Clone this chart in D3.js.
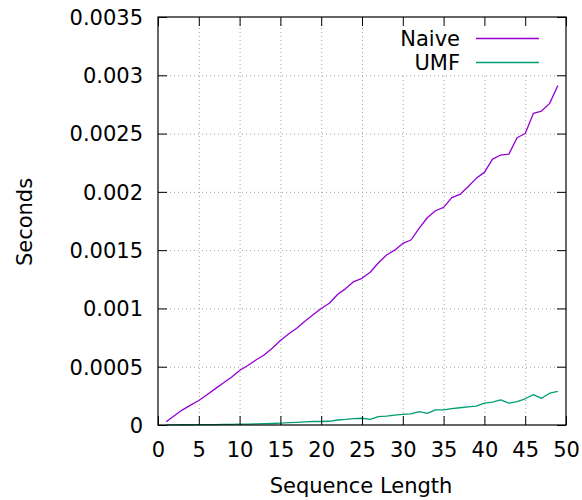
<!DOCTYPE html>
<html>
<head>
<meta charset="utf-8">
<script src="https://cdn.jsdelivr.net/npm/d3@7"></script>
<style>
  html, body { margin: 0; padding: 0; background: #fff; }
  svg { display: block; font-family: "DejaVu Sans", sans-serif; }
</style>
</head>
<body>
<svg id="chart" width="582" height="500"></svg>
<script>
// ---- data ----
const seqLength = d3.range(1, 50);
const naive = [
  0.000028, 0.00008, 0.00013, 0.00017, 0.00021, 0.00026, 0.00031, 0.00036, 0.00041, 0.000468,
  0.00051, 0.000557, 0.0006, 0.000658, 0.000725, 0.00078, 0.00083, 0.00089, 0.000945, 0.001,
  0.001044, 0.00112, 0.00117, 0.00123, 0.001258, 0.00131, 0.00139, 0.001458, 0.0015, 0.001558,
  0.001587, 0.001687, 0.001778, 0.001838, 0.001867, 0.00195, 0.001978, 0.002044, 0.002116, 0.002167,
  0.002281, 0.002316, 0.002324, 0.002464, 0.002501, 0.002673, 0.002693, 0.002759, 0.002913
];
const umf = [
  0.000001, 0.000001, 0.000002, 0.000002, 0.000003, 0.000003, 0.000004, 0.000005, 0.000006, 0.000007,
  0.000008, 0.00001, 0.000011, 0.000013, 0.000016, 0.00002, 0.000023, 0.000027, 0.00003, 0.00003,
  0.000032, 0.000043, 0.000048, 0.000055, 0.000058, 0.000048, 0.000071, 0.000077, 0.000085, 0.000092,
  0.000095, 0.000114, 0.0001, 0.000129, 0.000129, 0.00014, 0.000148, 0.000155, 0.000162, 0.000188,
  0.000196, 0.000216, 0.000188, 0.000201, 0.000225, 0.000261, 0.000229, 0.000273, 0.000289
];
const seriesNames = ["Naive", "UMF"];
const seriesColors = ["#9400d3", "#009e73"];
const xTicks = [0, 5, 10, 15, 20, 25, 30, 35, 40, 45, 50];
const yTicks = [0, 0.0005, 0.001, 0.0015, 0.002, 0.0025, 0.003, 0.0035];
const yTickLabels = ["0", "0.0005", "0.001", "0.0015", "0.002", "0.0025", "0.003", "0.0035"];
const xTitle = "Sequence Length";
const yTitle = "Seconds";

// ---- layout ----
const svg = d3.select("#chart");
const L = 158, R = 566, T = 17, B = 425;
const W = R - L, H = B - T;
const x = d3.scaleLinear().domain([0, 50]).range([L, R]);
const y = d3.scaleLinear().domain([0, 0.0035]).range([B, T]);
const FS = 21;

// grid
const gridX = svg.append("g").attr("transform", `translate(0,${B})`)
  .call(d3.axisBottom(x).tickValues(xTicks.slice(1, -1)).tickSize(-H).tickFormat(""));
const gridY = svg.append("g").attr("transform", `translate(${L},0)`)
  .call(d3.axisLeft(y).tickValues(yTicks.slice(1, -1)).tickSize(-W).tickFormat(""));
[gridX, gridY].forEach(g => {
  g.select(".domain").remove();
  g.selectAll("line").attr("stroke", "#a0a0a0").attr("stroke-width", 1).attr("stroke-dasharray", "1,3");
});

// lines
const series = [naive, umf];
const line = d3.line().x((d, i) => x(seqLength[i])).y(d => y(d));
series.forEach((s, k) => {
  svg.append("path").datum(s).attr("d", line)
    .attr("fill", "none").attr("stroke", seriesColors[k]).attr("stroke-width", 1.3)
    .attr("stroke-linejoin", "round");
});

// legend (opaque)
svg.append("rect").attr("x", 396).attr("y", T + 1).attr("width", R - 396 - 1).attr("height", 56)
  .attr("fill", "#fff");
seriesNames.forEach((n, k) => {
  const yy = 38.5 + k * 24;
  svg.append("text").attr("x", 460).attr("y", yy + 7.5).attr("text-anchor", "end")
    .attr("font-size", FS).attr("fill", "#000").text(n);
  svg.append("line").attr("x1", 476).attr("x2", 539).attr("y1", yy).attr("y2", yy)
    .attr("stroke", seriesColors[k]).attr("stroke-width", 1.3);
});

// axes with inward ticks
const tk = 9;
const axB = svg.append("g").attr("transform", `translate(0,${B})`)
  .call(d3.axisBottom(x).tickValues(xTicks).tickSizeInner(-tk).tickSizeOuter(0).tickPadding(16));
const axT = svg.append("g").attr("transform", `translate(0,${T})`)
  .call(d3.axisTop(x).tickValues(xTicks).tickSizeInner(-tk).tickSizeOuter(0).tickFormat(""));
const axL = svg.append("g").attr("transform", `translate(${L},0)`)
  .call(d3.axisLeft(y).tickValues(yTicks).tickSizeInner(-tk).tickSizeOuter(0).tickPadding(15)
    .tickFormat((d, i) => yTickLabels[i]));
const axR = svg.append("g").attr("transform", `translate(${R},0)`)
  .call(d3.axisRight(y).tickValues(yTicks).tickSizeInner(-tk).tickSizeOuter(0).tickFormat(""));
[axB, axT, axL, axR].forEach(g => {
  g.select(".domain").remove();
  g.selectAll("line").attr("stroke", "#000").attr("stroke-width", 1);
  g.selectAll("text").attr("font-size", FS).attr("font-family", "DejaVu Sans, sans-serif").attr("fill", "#000");
});
axB.selectAll("text").attr("dy", null).attr("y", 32);
axL.selectAll("text").attr("dy", "0.35em");

// frame
svg.append("rect").attr("x", L).attr("y", T).attr("width", W).attr("height", H)
  .attr("fill", "none").attr("stroke", "#000").attr("stroke-width", 1.2);

// titles
svg.append("text").attr("x", (L + R) / 2 - 1).attr("y", 493).attr("text-anchor", "middle")
  .attr("font-size", FS).attr("fill", "#000").text(xTitle);
svg.append("text").attr("transform", `translate(32,222) rotate(-90)`).attr("text-anchor", "middle")
  .attr("font-size", FS).attr("fill", "#000").text(yTitle);
</script>
</body>
</html>
